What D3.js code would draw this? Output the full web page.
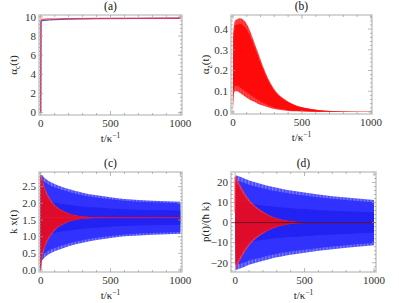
<!DOCTYPE html>
<html>
<head>
<meta charset="utf-8">
<script src="https://cdn.jsdelivr.net/npm/d3@7"></script>
<style>
  body { margin: 0; background: #fff; }
  svg { display: block; }
</style>
</head>
<body>
<div id="content"></div>
<script>
// ---- data ----
// (a) alpha_c(t)
const tA    = [0, 2, 5, 10, 30, 60, 100, 200, 400, 700, 1000];
const aRed  = [0, 9.60, 9.72, 9.75, 9.77, 9.79, 9.80, 9.82, 9.84, 9.85, 9.86];
const aBlue = [0, 9.40, 9.58, 9.62, 9.65, 9.68, 9.72, 9.78, 9.82, 9.84, 9.86];

// (b) alpha_z(t), envelope of the red oscillation band
const tB      = [0, 3, 8, 15, 30, 50, 75, 100, 125, 150, 180, 215, 260, 310, 360, 400, 460, 520, 620, 725, 850, 1000];
const bUpper  = [0, 0.38, 0.42, 0.44, 0.448, 0.452, 0.445, 0.425, 0.39, 0.345, 0.29, 0.225, 0.155, 0.10, 0.068, 0.05, 0.031, 0.02, 0.009, 0.004, 0.0015, 0.0005];
const bLower  = [0, 0.05, 0.09, 0.10, 0.10, 0.092, 0.08, 0.068, 0.058, 0.05, 0.04, 0.031, 0.021, 0.013, 0.008, 0.005, 0.003, 0.0015, 0.0005, 0, 0, 0];

// (c) k x(t), envelopes of the blue and red bands
const tC      = [0, 5, 10, 20, 40, 70, 100, 150, 200, 250, 300, 400, 500, 600, 800, 1000];
const cBlueHi = [0, 2.85, 2.85, 2.80, 2.72, 2.64, 2.58, 2.50, 2.43, 2.37, 2.32, 2.24, 2.18, 2.13, 2.08, 2.05];
const cBlueLo = [0, 0.29, 0.29, 0.34, 0.42, 0.50, 0.56, 0.64, 0.71, 0.77, 0.82, 0.90, 0.96, 1.01, 1.06, 1.09];
const cRedHi  = [0, 2.85, 2.80, 2.62, 2.36, 2.12, 1.96, 1.80, 1.70, 1.64, 1.605, 1.58, 1.575, 1.572, 1.57, 1.57];
const cRedLo  = [0, 0.10, 0.34, 0.52, 0.78, 1.02, 1.18, 1.34, 1.44, 1.50, 1.535, 1.56, 1.565, 1.568, 1.57, 1.57];

// (d) p(t)/(hbar k), envelopes of the blue and red bands
const tD      = [0, 5, 10, 20, 50, 80, 100, 150, 200, 250, 300, 350, 400, 500, 600, 800, 1000];
const dBlueHi = [5, 23.5, 23.5, 23.2, 22.5, 21.6, 21.0, 20.0, 19.0, 18.1, 17.3, 16.6, 16.0, 15.0, 14.0, 12.5, 11.3];
const dRedHi  = [5, 23.0, 22.6, 21.0, 17.0, 13.5, 11.5, 8.0, 5.5, 3.5, 2.2, 1.3, 0.7, 0.2, 0.05, 0, 0];

const xTicks = [0, 500, 1000];

// ---- layout ----
const W = 399, H = 303;
const FONT = "'Liberation Serif', 'Times New Roman', Tinos, 'DejaVu Serif', serif";
const panels = [
  {title: "(a)", box: {l: 39, r: 182, t: 15, b: 115}, xDom: [-12, 1012], yDom: [-0.25, 10.2],
   yTicks: [0, 2, 4, 6, 8, 10], yMinor: 0.4, fmt: d3.format("d"), yLab: "a"},
  {title: "(b)", box: {l: 231, r: 372, t: 15, b: 114}, xDom: [-14, 1008], yDom: [-0.01, 0.468],
   yTicks: [0, 0.1, 0.2, 0.3, 0.4], yMinor: 0.02, fmt: d3.format(".1f"), yLab: "b"},
  {title: "(c)", box: {l: 39, r: 182, t: 172, b: 272}, xDom: [-12, 1012], yDom: [-0.06, 2.94],
   yTicks: [0, 0.5, 1, 1.5, 2, 2.5], yMinor: 0.1, fmt: d3.format(".1f"), yLab: "c"},
  {title: "(d)", box: {l: 231, r: 376, t: 172, b: 272}, xDom: [-30, 1015], yDom: [-24.6, 25.2],
   yTicks: [-20, -10, 0, 10, 20], yMinor: 2, fmt: d => d < 0 ? "\u2212" + Math.abs(d) : String(d), yLab: "d"}
];

const svg = d3.select("#content").append("svg").attr("width", W).attr("height", H)
  .attr("font-family", FONT);
const defs = svg.append("defs");

// light vertical streaks to hint the fast oscillation
function stripePattern(id, color, period, width, opacity) {
  const p = defs.append("pattern").attr("id", id).attr("patternUnits", "userSpaceOnUse")
    .attr("width", period).attr("height", 10);
  p.append("rect").attr("x", 0).attr("y", 0).attr("width", width).attr("height", 10)
    .attr("fill", color).attr("fill-opacity", opacity);
}
stripePattern("stripeW", "#ffffff", 3.4, 1.2, 0.3);
stripePattern("stripeR", "#ffffff", 2.7, 0.8, 0.16);

panels.forEach((p, i) => {
  const g = svg.append("g");
  p.x = d3.scaleLinear().domain(p.xDom).range([p.box.l, p.box.r]);
  p.y = d3.scaleLinear().domain(p.yDom).range([p.box.b, p.box.t]);
  defs.append("clipPath").attr("id", "clip" + i).append("rect")
    .attr("x", p.box.l).attr("y", p.box.t).attr("width", p.box.r - p.box.l).attr("height", p.box.b - p.box.t);
  p.plot = g.append("g").attr("clip-path", "url(#clip" + i + ")");
  p.g = g;
});

// band helper: nested layers, slightly paler at the edges
function band(p, t, hi, lo, layers, stripe, opacity) {
  const g = p.plot.append("g").attr("opacity", opacity);
  layers.forEach(([f, color], k) => {
    const area = d3.area()
      .x((d, j) => p.x(t[j]))
      .y0((d, j) => { const c = (hi[j] + lo[j]) / 2; return p.y(c + (hi[j] - c) * f); })
      .y1((d, j) => { const c = (hi[j] + lo[j]) / 2; return p.y(c + (lo[j] - c) * f); })
      .curve(d3.curveMonotoneX);
    g.append("path").attr("d", area(t)).attr("fill", color);
    if (k === 0) g.append("path").attr("d", area(t)).attr("fill", "url(#" + stripe + ")");
  });
}
const blueLayers = [[1, "#4a4aff"], [0.9, "#3232ff"], [0.45, "#2222f2"]];
const redLayers  = [[1, "#ff2a2a"], [0.9, "#ff0808"]];

// (a)
{
  const p = panels[0];
  const line = (vals) => d3.line().x((d, j) => p.x(tA[j])).y(d => p.y(d))(vals);
  p.plot.append("path").attr("d", line(aBlue)).attr("fill", "none").attr("stroke", "#3b3bd0").attr("stroke-width", 1.3).attr("stroke-opacity", 0.85);
  p.plot.append("path").attr("d", line(aRed)).attr("fill", "none").attr("stroke", "#ff3030").attr("stroke-width", 1.3).attr("stroke-opacity", 0.75);
}

// (b)
{
  const p = panels[1];
  band(p, tB, bUpper, bLower, [[1, "#ff3030"], [0.85, "#ff0a0a"]], "stripeR", 1);
}

// (c)
{
  const p = panels[2];
  band(p, tC, cBlueHi, cBlueLo, blueLayers, "stripeW", 1);
  band(p, tC, cRedHi, cRedLo, redLayers, "stripeR", 0.85);
  const idx = d3.range(1, tC.length);
  p.plot.append("path")
    .attr("d", d3.line().x(j => p.x(tC[j])).y(j => p.y((cRedHi[j] + cRedLo[j]) / 2)).curve(d3.curveMonotoneX)(idx))
    .attr("fill", "none").attr("stroke", "#ee1030").attr("stroke-width", 1);
  p.plot.append("line").attr("x1", p.x(0)).attr("x2", p.x(0)).attr("y1", p.y(0)).attr("y2", p.y(cRedHi[1]))
    .attr("stroke", "#c0205a").attr("stroke-width", 1.2);
}

// (d)
{
  const p = panels[3];
  const neg = arr => arr.map(v => -v);
  band(p, tD, dBlueHi, neg(dBlueHi), blueLayers, "stripeW", 1);
  band(p, tD, dRedHi, neg(dRedHi), redLayers, "stripeR", 0.85);
  p.plot.append("line").attr("x1", p.box.l).attr("x2", p.box.r).attr("y1", p.y(0)).attr("y2", p.y(0))
    .attr("stroke", "#6a1020").attr("stroke-width", 1);
  p.plot.append("line").attr("x1", p.x(0)).attr("x2", p.x(0)).attr("y1", p.y(5)).attr("y2", p.y(dRedHi[1]))
    .attr("stroke", "#ff2040").attr("stroke-width", 1.2);
}

// frames, ticks, labels
panels.forEach(p => {
  const g = p.g, b = p.box, tc = "#9a9a9a";
  g.append("rect").attr("x", b.l).attr("y", b.t).attr("width", b.r - b.l).attr("height", b.b - b.t)
    .attr("fill", "none").attr("stroke", "#c4c4c4").attr("stroke-width", 1.4);

  // x ticks (major + minor) on bottom and top
  d3.range(0, 1001, 100).forEach(v => {
    const len = v % 500 === 0 ? 4 : 2, X = p.x(v);
    g.append("line").attr("x1", X).attr("x2", X).attr("y1", b.b).attr("y2", b.b - len).attr("stroke", tc).attr("stroke-width", 0.7);
    g.append("line").attr("x1", X).attr("x2", X).attr("y1", b.t).attr("y2", b.t + len).attr("stroke", tc).attr("stroke-width", 0.7);
  });
  // y ticks
  const ymin = Math.ceil(p.yDom[0] / p.yMinor) * p.yMinor;
  for (let v = ymin; v <= p.yDom[1] + 1e-9; v += p.yMinor) {
    const major = p.yTicks.some(t => Math.abs(t - v) < p.yMinor / 10);
    const len = major ? 4 : 2, Y = p.y(v);
    g.append("line").attr("x1", b.l).attr("x2", b.l + len).attr("y1", Y).attr("y2", Y).attr("stroke", tc).attr("stroke-width", 0.7);
    g.append("line").attr("x1", b.r).attr("x2", b.r - len).attr("y1", Y).attr("y2", Y).attr("stroke", tc).attr("stroke-width", 0.7);
  }

  g.selectAll(".xl").data(xTicks).enter().append("text")
    .attr("x", d => p.x(d)).attr("y", b.b + 12).attr("text-anchor", "middle")
    .attr("font-size", 11).attr("fill", "#333").text(d => d);
  g.selectAll(".yl").data(p.yTicks).enter().append("text")
    .attr("x", b.l - 3).attr("y", d => p.y(d) + 3.8).attr("text-anchor", "end")
    .attr("font-size", 11).attr("fill", "#333").text(p.fmt);

  g.append("text").attr("x", (b.l + b.r) / 2).attr("y", b.t - 5).attr("text-anchor", "middle")
    .attr("font-size", 11.5).attr("fill", "#111").text(p.title);

  const xl = g.append("text").attr("x", (b.l + b.r) / 2).attr("y", b.b + 27).attr("text-anchor", "middle")
    .attr("font-size", 11).attr("fill", "#222");
  xl.append("tspan").text("t/\u03ba");
  xl.append("tspan").attr("dy", -4).attr("font-size", 7.5).text("\u22121");

  const cy = (b.t + b.b) / 2;
  const yl = g.append("text").attr("transform", `translate(${b.l - 22},${cy}) rotate(-90)`)
    .attr("text-anchor", "middle").attr("font-size", 11).attr("fill", "#222");
  if (p.yLab === "a" || p.yLab === "b") {
    yl.append("tspan").text("\u03b1");
    yl.append("tspan").attr("dy", 2.5).attr("font-size", 7.5).text(p.yLab === "a" ? "c" : "z");
    yl.append("tspan").attr("dy", -2.5).text("(t)");
  } else if (p.yLab === "c") {
    yl.text("k x(t)");
  } else {
    yl.text("p(t)/(\u0127 k)");
  }
});
</script>
</body>
</html>
